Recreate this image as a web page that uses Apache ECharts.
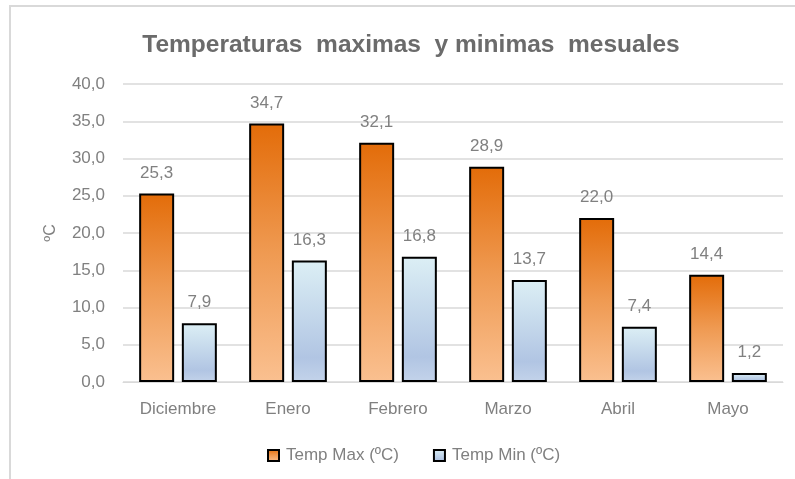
<!DOCTYPE html>
<html><head><meta charset="utf-8">
<script src="https://cdn.jsdelivr.net/npm/echarts@6/dist/echarts.min.js"></script>
<style>html,body{margin:0;padding:0;background:#fff}#c{width:795px;height:479px}</style>
</head><body><div id="c"></div>
<script>
const categories = ['Diciembre','Enero','Febrero','Marzo','Abril','Mayo'];
const tempMax = [25.3, 34.7, 32.1, 28.9, 22.0, 14.4];
const tempMin = [7.9, 16.3, 16.8, 13.7, 7.4, 1.2];
const seriesNames = ['Temp Max (ºC)', 'Temp Min (ºC)'];
const titleText = 'Temperaturas  maximas  y minimas  mesuales';
const yName = 'ºC';

const fmt = v => v.toFixed(1).replace('.', ',');
const font = 'Liberation Sans, Arial, sans-serif';
const orangeGrad = new echarts.graphic.LinearGradient(0,0,0,1,[
  {offset:0,color:'#E36C09'},{offset:0.5,color:'#EF9A52'},{offset:1,color:'#FAC090'}]);
const blueGrad = new echarts.graphic.LinearGradient(0,0,0,1,[
  {offset:0,color:'#DCEFF5'},{offset:0.8,color:'#B1C5E3'},{offset:1,color:'#C3D3EA'}]);

const chart = echarts.init(document.getElementById('c'), null, {renderer:'canvas'});
chart.setOption({
  animation:false,
  backgroundColor:'#fff',
  title:{text:titleText,left:406,top:28,textAlign:'center',
    textStyle:{fontFamily:font,fontWeight:'bold',fontSize:24.5,color:'#6b6b6b'}},
  graphic:[
    {type:'line',shape:{x1:10,y1:6,x2:10,y2:479},style:{stroke:'#d9d9d9',lineWidth:2}},
    {type:'line',shape:{x1:9,y1:6,x2:795,y2:6},style:{stroke:'#d9d9d9',lineWidth:2}}
  ],
  legend:{data:seriesNames,left:262,top:442,itemWidth:11,itemHeight:11,itemGap:34,
    icon:'rect',
    textStyle:{fontFamily:font,fontSize:17,color:'#808080',padding:[0,0,0,2]}},
  grid:{left:123,right:12,top:84,bottom:97},
  xAxis:{type:'category',data:categories,
    axisLine:{lineStyle:{color:'#d9d9d9',width:1}},axisTick:{show:false},
    axisLabel:{fontFamily:font,fontSize:17,color:'#808080',margin:19}},
  yAxis:{type:'value',min:0,max:40,interval:5,name:yName,nameLocation:'middle',nameGap:64,
    nameTextStyle:{fontFamily:font,fontSize:16,color:'#808080'},
    axisLine:{show:false},axisTick:{show:false},
    splitLine:{lineStyle:{color:'#d9d9d9',width:1.5}},
    axisLabel:{fontFamily:font,fontSize:17,color:'#808080',margin:18,formatter:v=>fmt(v)}},
  series:[
    {name:seriesNames[0],type:'bar',data:tempMax,barWidth:35,barGap:'22%',
      itemStyle:{color:orangeGrad,borderColor:'#000',borderWidth:2},
      label:{show:true,position:'top',distance:12,formatter:p=>fmt(p.value),
        fontFamily:font,fontSize:17,color:'#808080'}},
    {name:seriesNames[1],type:'bar',data:tempMin,barWidth:35,barGap:'22%',
      itemStyle:{color:blueGrad,borderColor:'#000',borderWidth:2},
      label:{show:true,position:'top',distance:12,formatter:p=>fmt(p.value),
        fontFamily:font,fontSize:17,color:'#808080'}}
  ]
});
</script></body></html>
